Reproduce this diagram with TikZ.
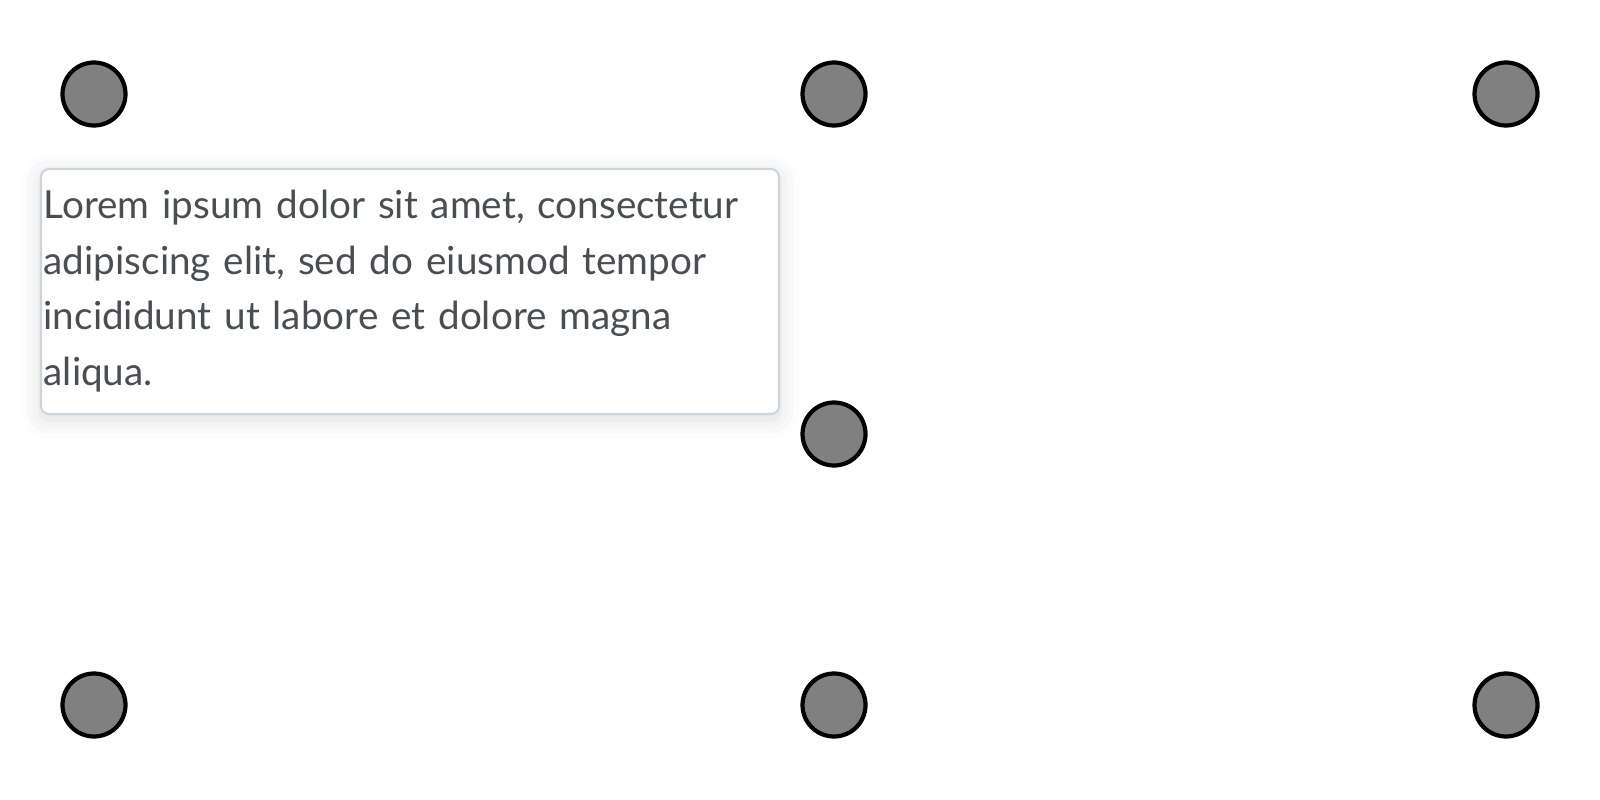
\documentclass[tikz,border=0pt]{standalone}
\usepackage{fontspec}
\setmainfont{Lato}
\usetikzlibrary{shadows.blur}
\definecolor{dotgray}{HTML}{808080}
\definecolor{textgray}{HTML}{4A4D52}
\definecolor{boxline}{HTML}{CDD4DC}
\tikzset{
  dot/.style={circle, draw=black, fill=dotgray, line width=1.2pt, minimum size=0.63cm, inner sep=0pt},
  notebox/.style={draw=boxline, line width=0.6pt, rounded corners=0.08cm, fill=white,
    blur shadow={shadow xshift=0cm, shadow yshift=-0.05cm, shadow blur radius=0.2cm, shadow opacity=14}}
}
\begin{document}
\begin{tikzpicture}
\useasboundingbox (0,0) rectangle (16,-8);

\node[dot] (tl) at (0.94,-0.94) {};
\node[dot] (tm) at (8.34,-0.94) {};
\node[dot] (tr) at (15.06,-0.94) {};
\node[dot] (mm) at (8.34,-4.34) {};
\node[dot] (bl) at (0.94,-7.05) {};
\node[dot] (bm) at (8.34,-7.05) {};
\node[dot] (br) at (15.06,-7.05) {};

\draw[notebox] (0.41,-1.69) rectangle (7.79,-4.14);
\node[anchor=north west, inner sep=0pt, text width=7.3cm, align=left, text=textgray,
  font=\fontsize{11pt}{15.9pt}\selectfont] (note) at (0.43,-1.89)
  {Lorem ipsum dolor sit amet, consectetur\\
   adipiscing elit, sed do eiusmod tempor\\
   incididunt ut labore et dolore magna\\
   aliqua.};

\end{tikzpicture}
\end{document}
